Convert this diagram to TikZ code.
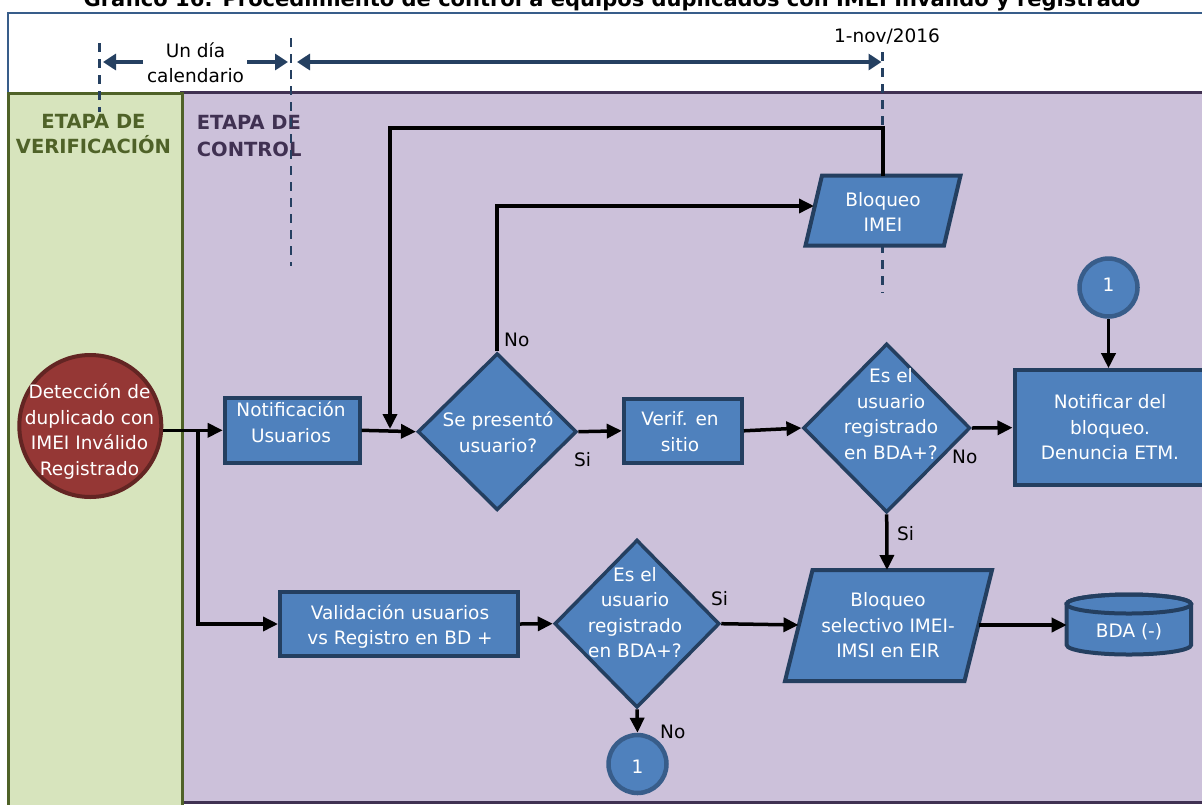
\documentclass[tikz,border=0pt]{standalone}
\usepackage{fontspec}
\setmainfont{DejaVu Sans}
\usetikzlibrary{shapes.geometric,arrows.meta,calc}

\definecolor{boxfill}{HTML}{4F81BD}
\definecolor{boxline}{HTML}{243F60}
\definecolor{ringline}{HTML}{385D8A}
\definecolor{detfill}{HTML}{953735}
\definecolor{detline}{HTML}{632523}
\definecolor{greenfill}{HTML}{D7E4BD}
\definecolor{greenline}{HTML}{4F6228}
\definecolor{purplefill}{HTML}{CCC1DA}
\definecolor{purpleline}{HTML}{403152}
\definecolor{navy}{HTML}{254061}
\definecolor{frameline}{HTML}{385D8A}

\tikzset{
  bodyfont/.style={font=\fontsize{18.5}{25.5}\selectfont},
  wtxt/.style={bodyfont, text=white, align=center, inner sep=0pt,
    execute at begin node=\strut, execute at end node=\strut},
  btxt/.style={wtxt, text=black},
  lbl/.style={bodyfont, text=black, inner sep=0pt},
  proc/.style={rectangle, draw=boxline, fill=boxfill, line width=4pt, inner sep=0pt},
  decision/.style={diamond, draw=boxline, fill=boxfill, line width=3.5pt, inner sep=0pt},
  pgram/.style={draw=boxline, fill=boxfill, line width=4pt, line join=miter},
  ring/.style={circle, draw=ringline, fill=boxfill, line width=4.5pt, inner sep=0pt, minimum size=58pt},
  detc/.style={circle, draw=detline, fill=detfill, line width=4pt, inner sep=0pt},
  conn/.style={draw=black, line width=3.5pt, -{Triangle[length=15pt,width=14pt]}},
  navarrow/.style={draw=navy, line width=4pt, -{Triangle[length=13pt,width=16pt]}},
  navdouble/.style={draw=navy, line width=4pt, {Triangle[length=13pt,width=16pt]}-{Triangle[length=13pt,width=16pt]}},
  dashline/.style={draw=navy, line width=2.8pt, dash pattern=on 9pt off 7pt},
  head/.style={font=\bfseries\fontsize{19.5}{25}\selectfont, inner sep=0pt,
    execute at begin node=\strut, execute at end node=\strut},
}

\begin{document}
\begin{tikzpicture}[x=1pt,y=-1pt]
\useasboundingbox (0,0) rectangle (1202,804);
\clip (0,0) rectangle (1202,804);
\fill[white] (0,0) rectangle (1202,804);

% heading of the figure (its upper part runs off the page)
\node[font=\bfseries\fontsize{21}{23}\selectfont, anchor=base, inner sep=0pt] (title) at (612,6.5)
  {Gráfico 16: Procedimiento de control a equipos duplicados con IMEI Inválido y registrado};

% time line frame
\draw[draw=frameline, line width=2pt, fill=white] (8,12.7) rectangle (1230,140);

% stage panels
\draw[fill=purplefill, draw=purpleline, line width=3pt] (181,92) rectangle (1230,802);
\draw[fill=greenfill, draw=greenline, line width=3pt] (8.3,93.3) rectangle (182.7,830);

\node[head, text=greenline, align=center] (etv) at (93.5,137.5) {ETAPA DE\\VERIFICACIÓN};
\node[head, font=\bfseries\fontsize{19.5}{27}\selectfont, text=purpleline, align=left, anchor=west] (etc) at (196.7,140) {ETAPA DE\\CONTROL};

% milestone markers
\draw[dashline] (99.5,43) -- (99.5,112);
\draw[dashline] (291,38) -- (291,266);
\draw[dashline] (882.5,52) -- (882.5,293);

\coordinate (m1l) at (143,62);
\coordinate (m1) at (103,62);
\coordinate (m2l) at (247,62);
\coordinate (m2) at (288,62);
\coordinate (m3l) at (297,62);
\coordinate (m3) at (881.5,62);
\draw[navarrow] (m1l) -- (m1);
\draw[navarrow] (m2l) -- (m2);
\draw[navdouble] (m3l) -- (m3);
\node[btxt] (undia) at (195.5,66.4) {Un día\\calendario};
\node[lbl, anchor=base] (fecha) at (887,42.7) {1-nov/2016};

% shapes
\node[detc, minimum size=142pt] (det) at (90.3,426) {};
\node[wtxt] (det-t) at (89.5,433.2) {Detección de\\duplicado con\\IMEI Inválido\\Registrado};

\node[proc, minimum width=135pt, minimum height=65pt] (notif) at (292.2,430.3) {};
\node[wtxt] (notif-t) at (291,425.9) {Notificación\\Usuarios};

\node[decision, minimum width=159pt, minimum height=157pt] (d1) at (497.2,431.7) {};
\node[wtxt] (d1-t) at (498,435.7) {Se presentó\\usuario?};

\node[proc, minimum width=118pt, minimum height=64pt] (verif) at (682.8,430.8) {};
\node[wtxt] (verif-t) at (680,435.1) {Verif. en\\sitio};

\node[decision, minimum width=167pt, minimum height=169pt] (d2) at (886.7,428) {};
\node[wtxt] (d2-t) at (891,417.7) {Es el\\usuario\\registrado\\en BDA+?};

\node[proc, minimum width=196pt, minimum height=115pt] (notbl) at (1112.5,427.7) {};
\node[wtxt] (notbl-t) at (1110,430.8) {Notificar del\\bloqueo.\\Denuncia ETM.};

\node[ring] (c1top) at (1108.5,287.5) {};
\node[wtxt] (c1top-t) at (1108.5,286.6) {1};

\filldraw[pgram] (822,175.5) -- (960.5,175.5) -- (944,245.5) -- (805.5,245.5) -- cycle;
\node[wtxt] (bimei) at (883,215.7) {Bloqueo\\IMEI};

\node[proc, minimum width=238pt, minimum height=64pt] (valid) at (399,624) {};
\node[wtxt] (valid-t) at (400,628.6) {Validación usuarios\\vs Registro en BD +};

\node[decision, minimum width=165pt, minimum height=168pt] (d3) at (637,623.7) {};
\node[wtxt] (d3-t) at (635,616.4) {Es el\\usuario\\registrado\\en BDA+?};

\node[ring] (c1bot) at (637.5,764) {};
\node[wtxt] (c1bot-t) at (637.5,768.2) {1};

\filldraw[pgram] (812.5,570) -- (992,570) -- (964.5,681) -- (785,681) -- cycle;
\node[wtxt] (bsel) at (888,629) {Bloqueo\\selectivo IMEI-\\IMSI en EIR};

\filldraw[pgram, line width=4pt] (1066.7,604) -- (1066.7,645)
  arc[start angle=180, end angle=360, x radius=62.2pt, y radius=9.5pt]
  -- (1191.1,604)
  arc[start angle=0, end angle=180, x radius=62.2pt, y radius=9.5pt] -- cycle;
\draw[draw=boxline, line width=4pt] (1128.9,604) ellipse[x radius=62.2pt, y radius=9.5pt];
\node[wtxt] (bda) at (1129,632.2) {BDA (-)};

% connection points on the drawn outlines
\coordinate (br) at (198,430.3);
\coordinate (bimei-n) at (883,175.5);
\coordinate (bimei-w) at (814,206);
\coordinate (looptop) at (390,128);
\coordinate (loopend) at (390,429);
\coordinate (bsel-n) at (887,570);
\coordinate (bsel-w) at (798.5,625);
\coordinate (bsel-e) at (978.5,625);
\coordinate (bda-w) at (1066.7,625);

% connectors
\draw[conn] (det.east |- notif.west) -- (notif.west);
\draw[conn] (br) |- (valid.west);
\draw[conn] (notif.east) -- (d1.west);
\draw[conn] (bimei-n) |- (looptop) -- (loopend);
\draw[conn] (d1.north) |- (bimei-w);
\draw[conn] (d1.east) -- (verif.west);
\draw[conn] (verif.east) -- (d2.west);
\draw[conn] (d2.east) -- (notbl.west);
\draw[conn] (d2.south) -- (bsel-n);
\draw[conn] (c1top.south) -- (c1top.south |- notbl.north);
\draw[conn] (valid.east) -- (d3.west);
\draw[conn] (d3.east) -- (bsel-w);
\draw[conn] (d3.south) -- (c1bot.north);
\draw[conn] (bsel-e) -- (bda-w);

% branch labels
\node[lbl, anchor=base west] (no1) at (504,346) {No};
\node[lbl, anchor=base west] (si1) at (574,466) {Si};
\node[lbl, anchor=base west] (no2) at (952,463) {No};
\node[lbl, anchor=base west] (si2) at (897,540) {Si};
\node[lbl, anchor=base west] (si3) at (711,605) {Si};
\node[lbl, anchor=base west] (no3) at (660,738) {No};
\end{tikzpicture}
\end{document}
